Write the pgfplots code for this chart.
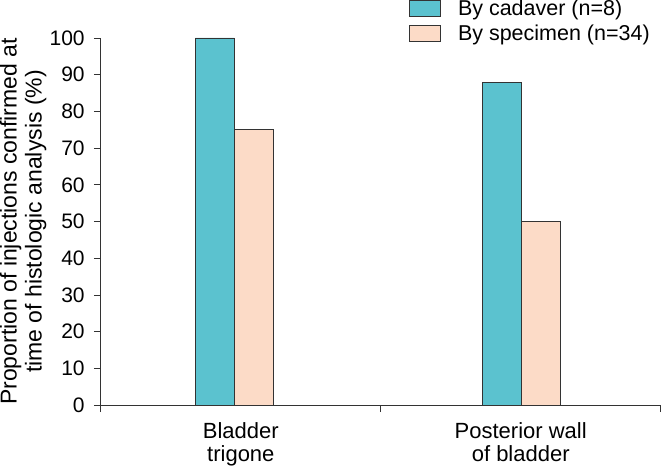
\documentclass[border=0pt]{standalone}
\usepackage{fontspec}
\setmainfont{Liberation Sans}
\usepackage{pgfplots}
\pgfplotsset{compat=1.18}

\definecolor{cadaver}{HTML}{5BC2CF}
\definecolor{specimen}{HTML}{FCDBC7}
\definecolor{edge}{HTML}{333333}

\begin{document}
\begin{tikzpicture}
\begin{axis}[
  scale only axis,
  width=558bp, height=366bp,
  xmin=0, xmax=2, ymin=0, ymax=100,
  axis lines*=left,
  axis line style={edge, line width=0.9bp},
  ybar=0pt, bar width=39bp,
  tick align=outside,
  major tick length=7bp,
  tick style={edge, line width=0.9bp},
  xtick={0,1,2}, xticklabels={},
  extra x ticks={0.5,1.5},
  extra x tick labels={{Bladder\\trigone},{Posterior wall\\of bladder}},
  extra x tick style={major tick length=0pt, grid=none,
    xticklabel style={align=center, font=\fontsize{22}{23}\selectfont, inner sep=0pt, yshift=-17bp}},
  ytick={0,10,...,100},
  yticklabel style={font=\fontsize{21}{22}\selectfont, inner sep=0pt, xshift=-9bp},
  /pgf/number format/assume math mode=true,
  ylabel={Proportion of injections confirmed at\\time of histologic analysis (\%)},
  ylabel style={align=center, font=\fontsize{23}{25}\selectfont, inner sep=0pt, yshift=3bp},
  legend style={draw=none, fill=none, at={(axis description cs:0.55,1.104)}, anchor=north west,
    inner xsep=0pt, inner ysep=0pt, row sep=8bp,
    font=\fontsize{21.5}{23}\selectfont,
    nodes={inner sep=0pt}},
  legend cell align=left,
  legend image code/.code={\draw[#1] (0bp,-8bp) rectangle (31bp,8bp);},
  /tikz/every odd column/.append style={column sep=17bp},
]
\addplot[fill=cadaver, draw=edge, line width=0.9bp] coordinates {(0.477,100) (1.502,88)};
\addplot[fill=specimen, draw=edge, line width=0.9bp] coordinates {(0.477,75) (1.502,50)};
\legend{By cadaver (n=8), By specimen (n=34)}
\end{axis}
\path (current axis.south east) ++(3bp,0);
\end{tikzpicture}
\end{document}
